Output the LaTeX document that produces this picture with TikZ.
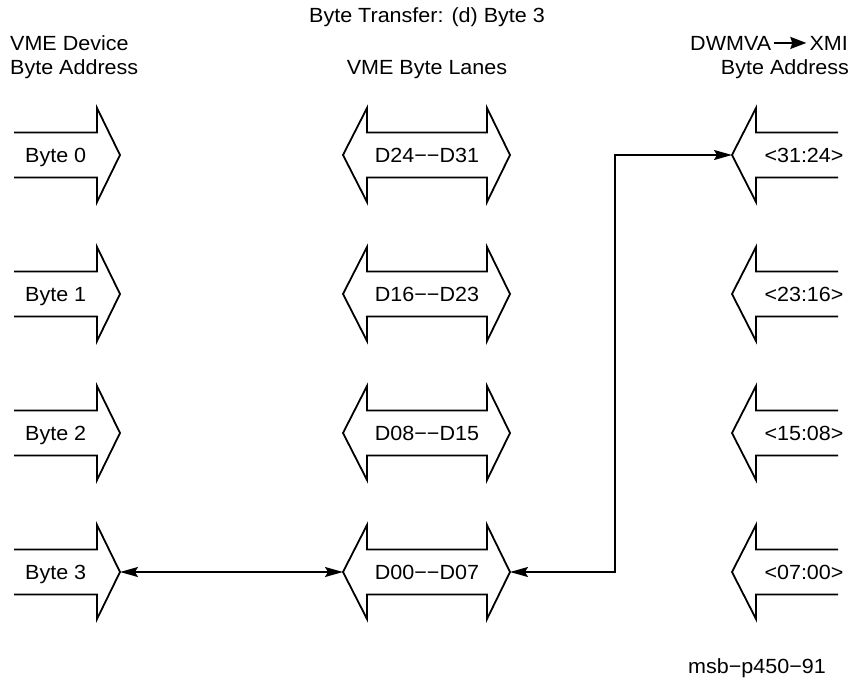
\documentclass[tikz,border=0pt]{standalone}
\usepackage{fontspec}
\setmainfont[FakeStretch=1.05]{Liberation Sans}
\usetikzlibrary{arrows.meta}
\begin{document}
\begin{tikzpicture}[x=1pt,y=-1pt,
  outl/.style={line width=1.8pt, line join=miter},
  lbl/.style={font=\fontsize{20.5}{24}\selectfont, inner sep=0pt},
  con/.style={line width=1.6pt, {Stealth[length=18pt,width=10pt,inset=3pt]}-{Stealth[length=18pt,width=10pt,inset=3pt]}},
  rarr/.pic={\draw[outl] (-83,-22.5) -- (0,-22.5) -- (0,-47) -- (23,0) -- (0,47) -- (0,22.5) -- (-83,22.5);
    \coordinate (-tip) at (23,0);},
  darr/.pic={\draw[outl] (-60,-22.5) -- (60,-22.5) -- (60,-47) -- (83,0) -- (60,47) -- (60,22.5) -- (-60,22.5) -- (-60,47) -- (-84,0) -- (-60,-47) -- cycle;
    \coordinate (-ltip) at (-84,0); \coordinate (-rtip) at (83,0);},
  larr/.pic={\draw[outl] (82,-22.5) -- (0,-22.5) -- (0,-47) -- (-24,0) -- (0,47) -- (0,22.5) -- (82,22.5);
    \coordinate (-tip) at (-24,0);}
]
\useasboundingbox (0,0) rectangle (855,680);

% headings
\node[lbl, anchor=base] (title) at (427,22) {Byte Transfer: (d) Byte 3};
\node[lbl, anchor=base west] (h1a) at (10,50) {VME Device};
\node[lbl, anchor=base west] (h1b) at (10,74) {Byte Address};
\node[lbl, anchor=base] (h2) at (427,74) {VME Byte Lanes};
\node[lbl, anchor=base east] (xmi) at (848,50) {XMI};
\node[lbl, anchor=base east] (dw) at ([xshift=-38pt]xmi.base west) {DWMVA};
\draw[line width=1.8pt, -{Stealth[length=16pt,width=12pt,inset=2pt]}] (dw.east) ++(3,0) coordinate (dwr) -- ([xshift=-3pt]dwr -| xmi.west);
\node[lbl, anchor=base] (h3b) at (785,74) {Byte Address};

% rows
\foreach \i/\y/\a/\b/\c in {0/155/Byte 0/D24−−D31/<31:24>,
                             1/294/Byte 1/D16−−D23/<23:16>,
                             2/433/Byte 2/D08−−D15/<15:08>,
                             3/572/Byte 3/D00−−D07/<07:00>}{
  \pic (b\i) at (97,\y) {rarr};
  \pic (m\i) at (427,\y) {darr};
  \pic (r\i) at (756,\y) {larr};
  \node[lbl, anchor=base west] (bt\i) at (25,\y+7) {\a};
  \node[lbl, anchor=base] (mt\i) at (427,\y+7) {\b};
  \node[lbl, anchor=base] (rt\i) at (804,\y+7) {\c};
}

% connectors
\coordinate (cnr) at (615,572);
\draw[con] (b3-tip) -- (m3-ltip);
\draw[con, line join=miter] (m3-rtip) -- (cnr) |- (r0-tip);

\node[lbl, anchor=base] (ref) at (757,673) {msb−p450−91};
\end{tikzpicture}
\end{document}
